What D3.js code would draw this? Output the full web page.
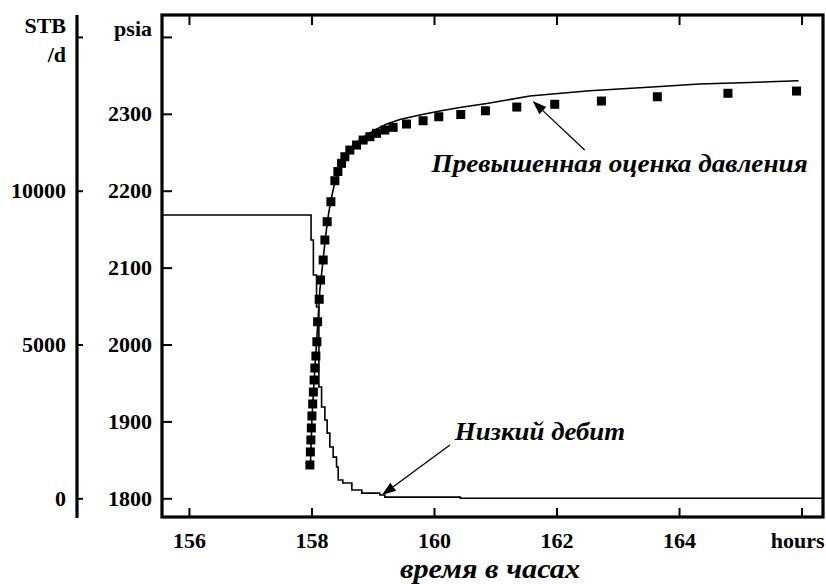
<!DOCTYPE html>
<html><head><meta charset="utf-8">
<script src="https://cdn.jsdelivr.net/npm/d3@7/dist/d3.min.js"></script>
<style>
html,body{margin:0;padding:0;background:#fff;}
svg{display:block;}
svg text{font-family:'Liberation Serif','Times New Roman',Times,'DejaVu Serif',serif !important;fill:#000;}
</style></head>
<body>
<svg id="chart" width="826" height="584"></svg>
<script>
// ---- data ----
const xTicks = [156, 158, 160, 162, 164, 166];
const xTickLabels = ["156", "158", "160", "162", "164", "hours"];
const pTicks = [1800, 1900, 2000, 2100, 2200, 2300, 2400];
const pTickLabels = ["1800", "1900", "2000", "2100", "2200", "2300", ""];
const rTicks = [0, 5000, 10000, 15000];
const rTickLabels = ["0", "5000", "10000", ""];

// measured pressure (squares)
const measTime = [157.974,157.982,157.990,157.998,158.007,158.020,158.031,158.042,158.055,158.072,
  158.088,158.100,158.126,158.148,158.191,158.219,158.256,158.317,158.382,158.431,158.491,158.545,
  158.626,158.736,158.843,158.953,159.062,159.197,159.333,159.551,159.822,160.078,160.437,160.840,
  161.351,161.971,162.733,163.646,164.798,165.918];
const measPsia = [1843.4,1860.3,1875.9,1891.5,1907.1,1922.7,1938.2,1953.8,1969.4,1985.0,
  2003.6,2029.6,2058.8,2083.9,2109.9,2135.9,2159.7,2185.7,2213.0,2225.0,2235.6,2244.2,
  2252.9,2259.4,2265.9,2270.2,2274.6,2278.9,2282.4,2286.7,2291.0,2296.2,2299.1,2304.0,
  2308.8,2312.4,2316.6,2322.2,2326.7,2329.6];

// simulated pressure (line)
const simTime = [157.982,158.007,158.039,158.064,158.096,158.137,158.186,158.227,158.268,158.317,
  158.382,158.463,158.545,158.626,158.741,158.871,159.034,159.230,159.442,159.768,160.095,160.421,
  160.861,161.563,162.542,163.630,164.331,165.152,165.951];
const simPsia = [1840.7,1901.8,1947.3,1979.8,2018.8,2070.8,2107.2,2138.4,2164.4,2187.8,
  2211.2,2230.7,2243.7,2254.1,2263.2,2271.0,2278.9,2286.7,2292.6,2298.4,2303.6,2308.2,
  2313.4,2323.1,2330.0,2335.2,2338.8,2340.7,2343.0];

// sandface rate (stepped line), STB/d
const rateTime = [155.56,157.993,158.031,158.083,158.121,158.165,158.219,158.256,158.300,158.354,
  158.409,158.436,158.512,158.659,158.822,159.116,159.197,160.43,166.35];
const rateValue = [9210,8400,7260,6220,3620,2970,2545,2120,1670,1340,
  1020,595,500,270,170,110,40,0,0];

const annHigh = "Превышенная оценка давления";
const annLow = "Низкий дебит";
const xTitle = "время в часах";

// ---- layout ----
const L = 162, R = 823, T = 15, B = 517, rateAxisX = 77;
const FONT = "'Liberation Serif','Times New Roman',Times,'DejaVu Serif',serif";
const TICKFS = 22;
const svg = d3.select("#chart");

const x = d3.scaleLinear().domain([155.56, 166.35]).range([L, R]);
const y = d3.scaleLinear().domain([1775.7, 2428.5]).range([B, T]);
// rate axis shares pixels: 0 STB/d <-> 1800 psia, 5000 STB/d <-> 2000 psia
const yr = d3.scaleLinear().domain([(1775.7 - 1800) * 25, (2428.5 - 1800) * 25]).range([B, T]);

// psia axis (ticks inside)
const gP = svg.append("g").attr("transform", `translate(${L},0)`)
  .call(d3.axisLeft(y).tickValues(pTicks).tickSize(-10).tickPadding(10).tickSizeOuter(0)
    .tickFormat((d, i) => pTickLabels[i]));
gP.select(".domain").remove();

// rate axis
const gR = svg.append("g").attr("transform", `translate(${rateAxisX},0)`)
  .call(d3.axisLeft(yr).tickValues(rTicks).tickSize(-6).tickPadding(11).tickSizeOuter(0)
    .tickFormat((d, i) => rTickLabels[i]));
gR.select(".domain").attr("stroke-width", 3.2).attr("d", `M0,${T}V${B + 1}`);

// bottom axis
const gB = svg.append("g").attr("transform", `translate(0,${B})`)
  .call(d3.axisBottom(x).tickValues(xTicks).tickSize(-9).tickPadding(15).tickSizeOuter(0)
    .tickFormat((d, i) => xTickLabels[i]));
gB.select(".domain").remove();
gB.selectAll(".tick").filter((d) => d === 166).select("text").attr("text-anchor", "end").attr("x", R - x(166) + 1);

// top ticks
const gT = svg.append("g").attr("transform", `translate(0,${T})`)
  .call(d3.axisTop(x).tickValues(xTicks).tickSize(-10).tickSizeOuter(0).tickFormat(""));
gT.select(".domain").remove();

[gP, gR, gB, gT].forEach(g => {
  g.attr("font-family", FONT);
  g.selectAll(".tick line").attr("stroke", "#000").attr("stroke-width", 2);
  g.selectAll("text").attr("font-family", FONT)
    .attr("font-weight", "bold").attr("font-size", TICKFS).attr("fill", "#000");
});

// unit labels
function label(xp, yp, txt, anchor) {
  return svg.append("text").attr("x", xp).attr("y", yp).attr("text-anchor", anchor || "end")
    .attr("font-family", FONT).attr("font-weight", "bold").attr("font-size", TICKFS).text(txt);
}
label(L - 10, 36, "psia");
label(rateAxisX - 11, 33, "STB");
label(rateAxisX - 11, 62, "/d");

// clip
svg.append("clipPath").attr("id", "clip").append("rect")
  .attr("x", L).attr("y", T).attr("width", R - L).attr("height", B - T);
const plot = svg.append("g").attr("clip-path", "url(#clip)");

// rate stepped line
const rateData = rateTime.map((t, i) => [t, rateValue[i]]);
plot.append("path").datum(rateData)
  .attr("fill", "none").attr("stroke", "#000").attr("stroke-width", 1.6)
  .attr("d", d3.line().x(d => x(d[0])).y(d => yr(d[1])).curve(d3.curveStepAfter));

// simulated pressure line
const simData = simTime.map((t, i) => [t, simPsia[i]]);
plot.append("path").datum(simData)
  .attr("fill", "none").attr("stroke", "#000").attr("stroke-width", 1.6)
  .attr("d", d3.line().x(d => x(d[0])).y(d => y(d[1])));

// measured squares
const sq = 9;
const measData = measTime.map((t, i) => [t, measPsia[i]]);
plot.selectAll("rect.meas").data(measData).join("rect").attr("class", "meas")
  .attr("x", d => x(d[0]) - sq / 2).attr("y", d => y(d[1]) - sq / 2)
  .attr("width", sq).attr("height", sq).attr("fill", "#000");

// frame
svg.append("rect").attr("x", L).attr("y", T).attr("width", R - L).attr("height", B - T)
  .attr("fill", "none").attr("stroke", "#000").attr("stroke-width", 3.2);

// annotations
function arrow(t0, p0, t1, p1) {
  const x0 = x(t0), y0 = y(p0), x1 = x(t1), y1 = y(p1);
  const a = Math.atan2(y1 - y0, x1 - x0), len = 14, w = 5;
  const bx = x1 - len * Math.cos(a), by = y1 - len * Math.sin(a);
  svg.append("line").attr("x1", x0).attr("y1", y0).attr("x2", bx).attr("y2", by)
    .attr("stroke", "#000").attr("stroke-width", 1.3);
  svg.append("path").attr("fill", "#000")
    .attr("d", `M${x1},${y1}L${bx + w * Math.sin(a)},${by - w * Math.cos(a)}L${bx - w * Math.sin(a)},${by + w * Math.cos(a)}Z`);
}
arrow(162.46, 2253, 161.61, 2316.6);
arrow(160.26, 1869.3, 159.15, 1804.3);

function italic(xp, yp, txt, size, anchor) {
  const t = svg.append("text").attr("x", xp).attr("y", yp).attr("text-anchor", anchor || "start")
    .attr("font-family", FONT).attr("font-weight", "bold").attr("font-style", "italic")
    .attr("font-size", size).text(txt);
  return t;
}
// stretch the long annotation to its reference extent (x 432..808)
const hi = italic(x(159.96), y(2224.6), annHigh, 25);
hi.attr("textLength", x(166.1) - x(159.96)).attr("lengthAdjust", "spacingAndGlyphs");
const lo = italic(x(160.34), y(1875.8), annLow, 25);
lo.attr("textLength", x(163.12) - x(160.34)).attr("lengthAdjust", "spacingAndGlyphs");

italic(490, 578, xTitle, 27, "middle").attr("textLength", 180).attr("lengthAdjust", "spacingAndGlyphs");
</script>
</body></html>
